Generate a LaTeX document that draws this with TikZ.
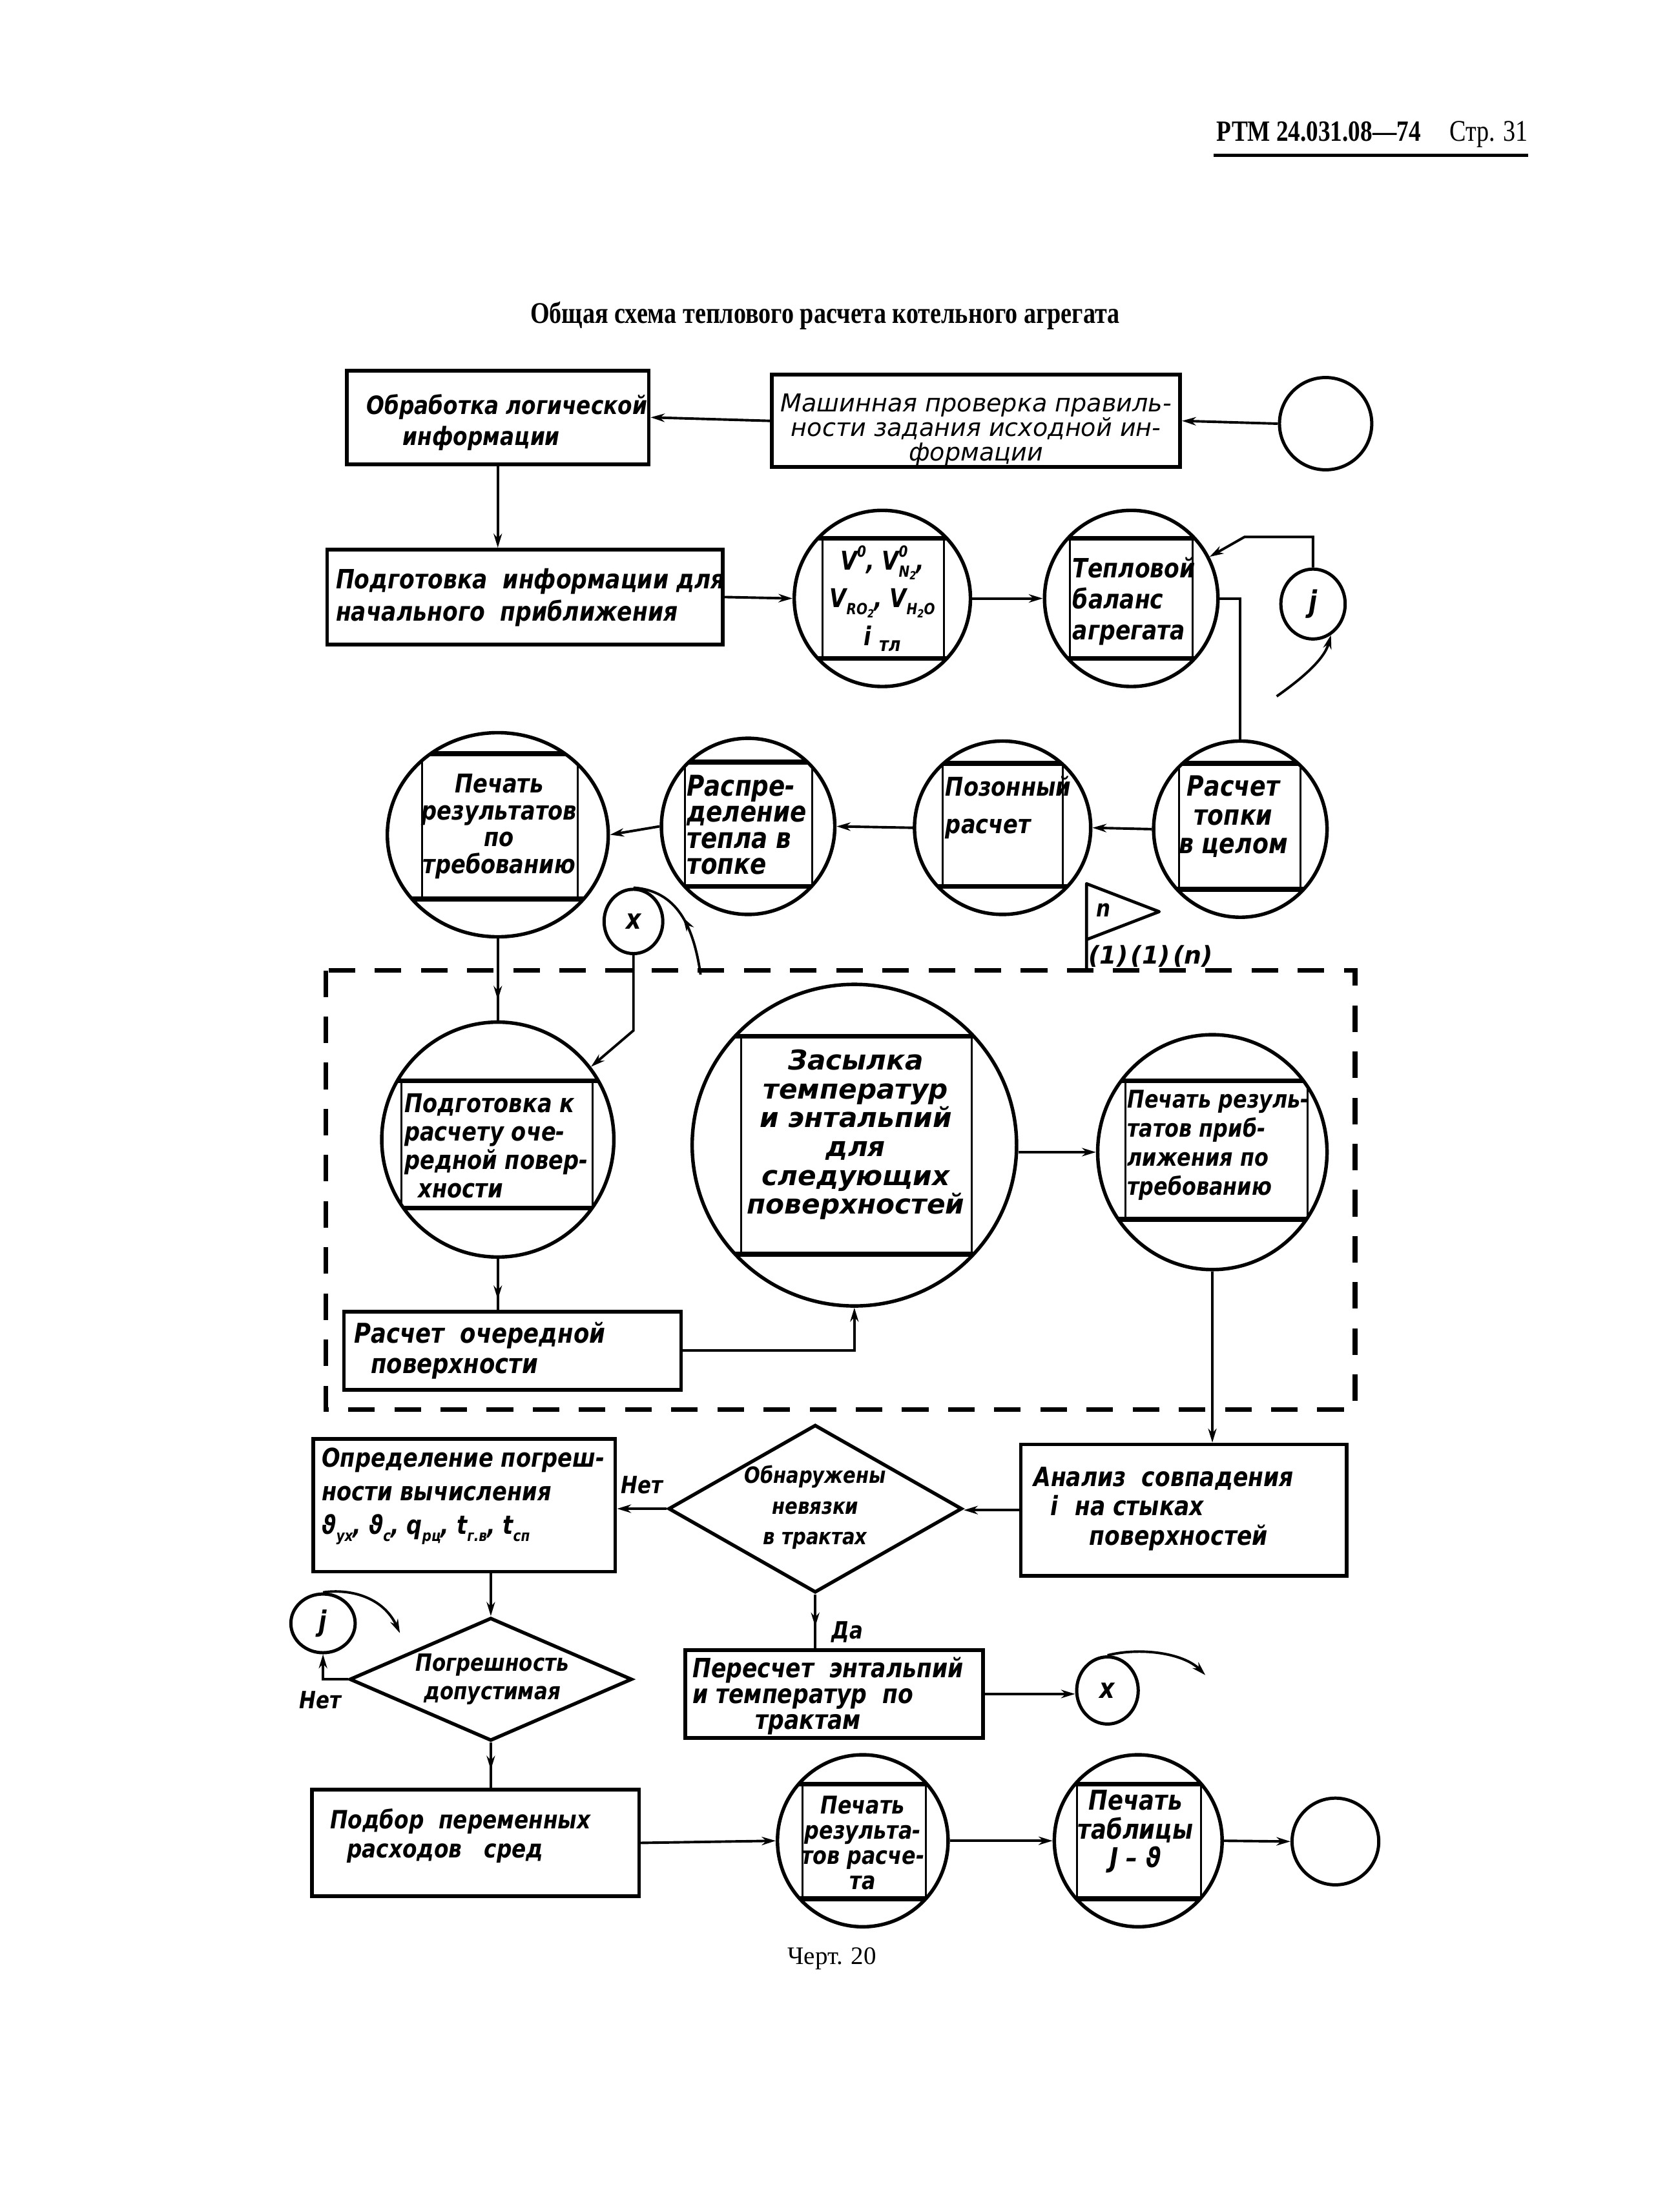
\documentclass[tikz,border=0pt]{standalone}
\usepackage{fontspec}
\setmainfont{Liberation Serif}
\newfontfamily\serc[FakeStretch=0.82]{Liberation Serif}
\newfontfamily\hand[FakeStretch=0.84]{DejaVu Sans}
\newfontfamily\handw{DejaVu Sans}
\usetikzlibrary{shapes.geometric,arrows.meta,decorations.markings,calc}
\newcommand\hf[2]{\hand\bfseries\itshape\fontsize{#1}{#2}\selectfont}
\newcommand\hw[2]{\handw\bfseries\itshape\fontsize{#1}{#2}\selectfont}
\newcommand\hwr[2]{\handw\itshape\fontsize{#1}{#2}\selectfont}
\newcommand\up[1]{\raisebox{0.9ex}{\fontsize{11}{11}\selectfont #1}}
\newcommand\dn[1]{\raisebox{-0.5ex}{\fontsize{11}{11}\selectfont #1}}
\newcommand\dnb[1]{\raisebox{-0.4ex}{\fontsize{14}{14}\selectfont #1}}
\newcommand\dnn[1]{\raisebox{-0.35ex}{\fontsize{8}{8}\selectfont #1}}
\tikzset{
  boxn/.style={draw, rectangle, line width=2.6, inner sep=0},
  oval/.style={draw, ellipse, line width=2.5, inner sep=0},
  dia/.style={draw, diamond, line width=2.5, inner sep=0},
  circ/.style={draw, ellipse, line width=2.3, inner sep=0},
  conn/.style={line width=1.8, -{Stealth[length=10pt,width=6pt]}},
  plain/.style={line width=1.8},
  midarr/.style={postaction={decorate}, decoration={markings, mark=at position #1 with {\arrow{Stealth[length=10pt,width=6pt]}}}},
  chord/.style={line width=3.4},
  side/.style={line width=1.4},
  dashbox/.style={line width=3.5, dash pattern=on 19pt off 14pt},
  txt/.style={inner sep=0, align=center},
  ltxt/.style={inner sep=0, align=left, anchor=west},
}
% name, cx, cy, rx, ry, top, bottom, left, right
\newcommand\cell[9]{%
  \node[oval, minimum width={2*#4}, minimum height={2*#5}] (#1) at (#2,#3) {};
  \begin{scope}
    \clip (#2,#3) ellipse [x radius=#4, y radius=#5];
    \draw[chord] ({#2-#4},#6) -- ({#2+#4},#6);
    \draw[chord] ({#2-#4},#7) -- ({#2+#4},#7);
    \draw[side] (#8,#6) -- (#8,#7);
    \draw[side] (#9,#6) -- (#9,#7);
  \end{scope}}
\begin{document}
\begin{tikzpicture}[x=1pt,y=-1pt]
\fill[white] (0,0) rectangle (1200,1582);
\useasboundingbox (0,0) rectangle (1200,1582);

% header and title
\node[anchor=base west, inner sep=0, font=\serc\bfseries\fontsize{21}{21}\selectfont] (hdr) at (870,101) {РТМ 24.031.08—74};
\node[anchor=base east, inner sep=0, font=\serc\fontsize{21.5}{21.5}\selectfont] (pg) at (1093,101) {Стр. 31};
\draw[line width=2.5] (868,111) -- (1093,111);
\node[anchor=base, inner sep=0, font=\serc\bfseries\fontsize{21.5}{21.5}\selectfont] (title) at (590,231) {Общая схема теплового расчета котельного агрегата};

% row 1
\node[boxn, minimum width=216, minimum height=67] (A) at (356,298.5) {};
\node[ltxt, font=\hf{18}{22}] (At) at (262,302) {Обработка логической\\\hspace*{26pt}информации};
\node[boxn, minimum width=292, minimum height=66] (B) at (698,301) {};
\node[txt, font=\hwr{17.6}{17.5}] (Bt) at (698,307.5) {Машинная проверка правиль-\\ности задания исходной ин-\\формации};
\node[circ, minimum width=66, minimum height=66] (S) at (948,303) {};
\draw[conn] (S.west) -- (B.east);
\draw[conn] (B.west) -- (A.east);

% row 2
\node[boxn, minimum width=283, minimum height=68] (C) at (375.5,427) {};
\node[ltxt, font=\hf{19}{23}] (Ct) at (240,427.5) {Подготовка \ информации для\\начального \ приближения};
\cell{D}{631}{428}{63}{63}{385}{471}{588}{675}
\node[txt, font=\hf{18.5}{27}] (Dt) at (631,428) {V\up{0}, V\rlap{\up{0}}\dn{N\dnn{2}},\\V\dn{RO\dnn{2}}, V\dn{H\dnn{2}O}\\i \dnb{тл}};
\cell{E}{809}{428}{62}{63}{385}{471}{765}{853}
\node[ltxt, font=\hf{19}{22}] (Et) at (767,430) {Тепловой\\баланс\\агрегата};
\node[circ, minimum width=46, minimum height=50, font=\hf{21}{21}] (jT) at (939,432) {j};
\draw[conn] (A.south) -- (A.south |- C.north);
\draw[conn] (C.east) -- (D.west);
\draw[conn] (D.east) -- (E.west);
\coordinate (jc) at (890,384);
\draw[conn] (jT.north) |- (jc) -- (E.28);
\coordinate (jTt) at (913,498);
\draw[conn] (jTt) .. controls (930,486) and (947,472) .. (jT.-60);

% row 3
\cell{P1}{356}{597}{79}{73}{539}{643}{302}{413}
\node[txt, font=\hf{18.5}{19.3}] (P1t) at (357,591) {Печать\\результатов\\по\\требованию};
\cell{P2}{535}{591}{62}{63}{545}{634}{490}{581}
\node[ltxt, font=\hf{20.5}{18.7}] (P2t) at (491,590) {Распре-\\деление\\тепла в\\топке};
\cell{P3}{717}{592}{63}{62}{546}{634}{674}{760}
\node[ltxt, font=\hf{18.5}{27}] (P3t) at (676,577.5) {Позонный\\расчет};
\cell{P4}{887}{593}{62}{63}{546}{636}{843}{930}
\node[txt, font=\hf{20}{20.5}] (P4t) at (882,584) {Расчет\\топки\\в целом};
\draw[plain] (E.east) -| (P4.north);
\draw[conn] (P4.west) -- (P3.east);
\draw[conn] (P3.west) -- (P2.east);
\draw[conn] (P2.west) -- (P1.east);
\node[circ, minimum width=42, minimum height=46, font=\hf{20}{20}] (xT) at (453,659) {x};
\coordinate (xTt) at (501,697);
\draw[plain, midarr=0.5] (xTt) .. controls (496,662) and (484,637) .. (xT.north);

% flag
\coordinate (fl) at (777,694);
\coordinate (flt) at (777,632);
\coordinate (flp) at (829,652);
\coordinate (flb) at (777,672);
\draw[line width=2.2, line join=round] (fl) -- (flt) -- (flp) -- (flb);
\node[font=\hf{17}{17}, inner sep=0] (fn) at (789,651) {n};
\node[font=\hw{17.5}{17.5}, inner sep=0] (fl1) at (823,684) {(1)\kern2pt(1)\kern2pt(n)};

% dashed frame
\draw[dashbox] (233,694) rectangle (969,1008);

% row 4
\cell{Q1}{356}{815}{83}{84}{773}{864}{287}{424}
\node[ltxt, font=\hf{18.5}{20.3}] (Q1t) at (289,819.5) {Подготовка к\\расчету оче-\\редной повер-\\\hspace*{10pt}хности};
\cell{Q2}{611}{819}{116}{115}{741}{897}{530}{695}
\node[txt, font=\hw{19.5}{20.6}] (Q2t) at (612,811.5) {Засылка\\температур\\и энтальпий\\для\\следующих\\поверхностей};
\cell{Q3}{867}{824}{82}{84}{773}{872}{805}{935}
\node[ltxt, font=\hf{17.5}{20.7}] (Q3t) at (806,819) {Печать резуль-\\татов приб-\\лижения по\\требованию};
\node[boxn, minimum width=241, minimum height=56] (R) at (366.5,966) {};
\node[ltxt, font=\hf{19.5}{22}] (Rt) at (253,966) {Расчет \ очередной\\\hspace*{12pt}поверхности};
\draw[plain, midarr=0.75] (P1.south) -- (P1.south |- Q1.north);
\coordinate (xc) at (455,737);
\draw[conn] (xT.south) -- (xT.south |- xc) -- (Q1.38);
\draw[plain, midarr=0.8] (Q1.south) -- (Q1.south |- R.north);
\draw[conn] (R.east) -| (Q2.south);
\draw[conn] (Q3.west -| Q2.east) -- (Q3.west);

% row 5
\node[boxn, minimum width=216, minimum height=95] (O) at (332,1076.5) {};
\node[ltxt, font=\hf{18.5}{24}] (Ot) at (230,1070) {Определение погреш-\\ности вычисления\\ϑ\dn{ух}, ϑ\dn{с}, q\dn{рц}, t\dn{г.в}, t\dn{сп}};
\node[dia, minimum width=210, minimum height=120] (Obn) at (583,1079) {};
\node[txt, font=\hf{16}{22}] (Obnt) at (583,1078) {Обнаружены\\невязки\\в трактах};
\node[boxn, minimum width=233, minimum height=94] (An) at (846.5,1080) {};
\node[ltxt, font=\hf{19}{21}] (Ant) at (739,1079) {Анализ \ совпадения\\\hspace*{12pt}i\hspace*{12pt}на стыках\\\hspace*{40pt}поверхностей};
\draw[conn] (Q3.south) -- (Q3.south |- An.north);
\draw[conn] (An.west) -- (An.west -| Obn.east);
\draw[conn] (Obn.west) -- (Obn.west -| O.east);
\node[font=\hf{17}{17}, inner sep=0] (net1) at (459,1062) {Нет};

\node[boxn, minimum width=213, minimum height=63] (Per) at (596.5,1211.5) {};
\node[ltxt, font=\hf{19}{18.5}] (Pert) at (495,1213) {Пересчет \ энтальпий\\и температур \ по\\\hspace*{45pt}трактам};
\draw[plain, midarr=0.6] (Obn.south) -- (Obn.south |- Per.north);
\node[font=\hf{17}{17}, inner sep=0] (da) at (606,1167) {Да};
\node[circ, minimum width=44, minimum height=48, font=\hf{20}{20}] (xB) at (792,1209) {x};
\draw[conn] (Per.east) -- (Per.east -| xB.west);
\coordinate (xBt) at (862,1198);
\draw[conn] (xB.north) .. controls (815,1178) and (846,1182) .. (xBt);

\node[dia, minimum width=202, minimum height=88] (Pg) at (351,1201) {};
\node[txt, font=\hf{17}{20}] (Pgt) at (352,1201) {Погрешность\\допустимая};
\draw[conn] (O.south -| Pg.north) -- (Pg.north);
\node[circ, minimum width=46, minimum height=42, font=\hf{20}{20}] (jB) at (231,1161) {j};
\draw[conn] (Pg.west) -| (jB.south);
\node[font=\hf{17}{17}, inner sep=0] (net2) at (229,1216) {Нет};
\coordinate (jBt) at (286,1168);
\draw[conn] (jB.north) .. controls (250,1136) and (274,1142) .. (jBt);

% row 6
\node[boxn, minimum width=234, minimum height=76] (Pod) at (340,1318) {};
\node[ltxt, font=\hf{18}{21}] (Podt) at (236,1313) {Подбор \ переменных\\\hspace*{12pt}расходов \ \ сред};
\draw[plain, midarr=0.6] (Pg.south) -- (Pg.south |- Pod.north);
\cell{R1}{617}{1316.5}{61}{61.5}{1276}{1358}{574}{662}
\node[txt, font=\hf{17.5}{18}] (R1t) at (617,1318) {Печать\\результа-\\тов расче-\\та};
\cell{R2}{814}{1316.5}{60}{61.5}{1276}{1358}{770}{859}
\node[txt, font=\hf{19.5}{20.5}] (R2t) at (812,1310) {Печать\\таблицы\\J – ϑ};
\node[circ, minimum width=62, minimum height=62] (End) at (955,1317) {};
\draw[conn] (Pod.east) -- (R1.west);
\draw[conn] (R1.east) -- (R2.west);
\draw[conn] (R2.east) -- (End.west);

\node[anchor=base, inner sep=0, font=\rmfamily\fontsize{18}{18}\selectfont] (cap) at (595,1405) {Черт. 20};
\end{tikzpicture}
\end{document}
